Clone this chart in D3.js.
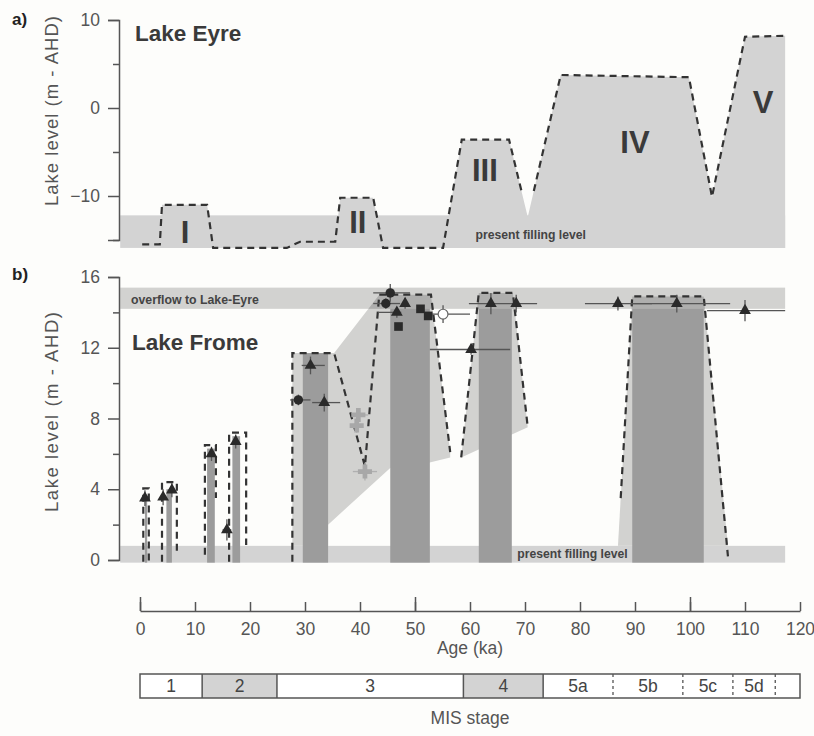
<!DOCTYPE html>
<html><head><meta charset="utf-8">
<script src="https://cdn.jsdelivr.net/npm/d3@7"></script>
<style>
body{margin:0;background:#fdfdfb;}
svg{display:block;}
text{font-family:"Liberation Sans",Arial,sans-serif;}
</style>
</head><body>
<svg id="c" width="814" height="736"></svg>
<script>
// ---------------- DATA ----------------
const ageTicks = [0,10,20,30,40,50,60,70,80,90,100,110,120];
const ageMajor = [0,50,100];
const plotAgeRange = [-3.6, 117.3];

// Panel a: Lake Eyre level curve
const eyreAge   = [0.4, 3.6, 4.0, 12.2, 13.3, 26.7, 29.1, 35.5, 36.4, 42.4, 44.2, 55.1, 58.5, 67.1, 70.5, 76.5, 99.8, 104.0, 110.0, 117.1];
const eyreLevel = [-15.5,-15.5,-11.0,-11.0,-15.9,-15.9,-15.2,-15.2,-10.2,-10.2,-15.9,-15.9,-3.6,-3.6,-12.4,3.75,3.5,-10.1,8.1,8.2];
const eyreDashGap = [69.4, 71.6];
const eyrePresent = [-12.2, -15.9];
const eyreTicksMajor = [10,0,-10];
const eyreTicksMinor = [5,-5,-15];
const eyreLabels = ["I","II","III","IV","V"];
const eyreLabelAge = [8.2, 39.6, 62.7, 90.0, 113.3];
const eyreLabelLevel = [-14.1, -13.0, -7.05, -3.9, 0.57];

// Panel b: Lake Frome
const fromeTicksMajor = [16,12,8,4,0];
const fromeTicksMinor = [14,10,6,2];
const fromePresent = [0.8, -0.15];
const fromeOverflow = [15.4, 14.2];
// dark columns
const colStart = [0.9, 4.8, 12.2, 16.8, 29.6, 45.5, 61.6, 89.5];
const colEnd   = [1.3, 5.8, 13.6, 18.2, 34.2, 52.7, 67.6, 102.5];
const colTop   = [3.6, 4.0, 6.3, 7.0, 11.7, 14.2, 14.2, 14.2];
// light envelopes (age, level)
const env1Age   = [27.7, 27.7, 35.3, 43.5, 52.9, 56.4, 56.4, 52.5, 45.5, 34.2, 34.2];
const env1Level = [0.8, 11.7, 11.7, 15.0, 15.0, 6.1, 5.8, 5.5, 5.2, 2.0, 0.8];
const env2Age   = [58.4, 61.6, 67.8, 70.5];
const env2Level = [5.8, 15.1, 15.1, 7.5];
const env3Age   = [86.9, 89.5, 102.5, 106.9];
const env3Level = [0.8, 14.9, 14.9, 0.8];
// dashed outlines
const dashA = {age:[0.6,0.6,1.6,1.6], level:[-0.1,4.05,4.05,-0.1]};
const dashB = {age:[4.0,4.0,6.7,6.7], level:[-0.1,4.4,4.4,0.3]};
const dashC = {age:[11.8,11.8,13.8,13.8], level:[0.3,6.5,6.5,3.5]};
const dashD = {age:[16.2,16.2,19.3,19.3], level:[-0.1,7.2,7.2,0.85]};
const dashE = {age:[27.7,27.7,35.3,40.9,43.5,52.9,56.4], level:[-0.1,11.7,11.7,5.3,15.0,15.0,6.1]};
const dashF = {age:[58.4,61.6,67.8,70.5], level:[5.8,15.1,15.1,7.5]};
const dashG = {age:[87.4,89.5,102.5,106.9], level:[3.5,14.9,14.9,0.2]};
// dated samples
const ptAge   = [0.9, 4.2, 5.8, 13.0, 15.8, 17.4, 28.8, 31.0, 33.5, 39.7, 39.4, 40.9, 45.5, 44.7, 48.2, 46.7, 47.0, 51.0, 52.4, 55.1, 60.2, 63.8, 68.4, 86.9, 97.6, 110.0];
const ptLevel = [3.5, 3.55, 3.95, 6.0, 1.7, 6.7, 9.05, 11.0, 8.9, 8.2, 7.6, 5.0, 15.1, 14.5, 14.5, 14.0, 13.2, 14.2, 13.8, 13.9, 11.9, 14.5, 14.5, 14.5, 14.5, 14.1];
const ptShape = ["tri","tri","tri","tri","tri","tri","circle","tri","tri","cross","cross","cross","circle","circle","tri","tri","square","square","square","open","tri","tri","tri","tri","tri","tri"];
const ptAgeLo = [0.9, 4.2, 5.8, 13.0, 15.0, 17.4, 27.3, 29.4, 31.3, 38.5, 38.7, 38.7, 42.4, 42.4, 48.2, 43.3, 47.0, 51.0, 52.4, 53.1, 52.7, 59.8, 68.4, 80.9, 89.1, 103.1];
const ptAgeHi = [0.9, 4.2, 5.8, 13.0, 16.6, 17.4, 31.0, 33.6, 36.4, 41.5, 40.2, 43.1, 49.1, 47.3, 48.2, 47.5, 47.0, 51.0, 52.4, 60.0, 67.3, 72.2, 68.4, 93.1, 107.3, 117.3];
const ptLevErr = [0.45,0.45,0.4,0.4,0.6,0.4,0.3,0.5,0.5,0.4,0.4,0.5,0.5,0.3,0.3,0.3,0.0,0.0,0.0,0.5,0.3,0.6,0.5,0.4,0.5,0.6];

// MIS stages
const misName  = ["1","2","3","4","5a","5b","5c","5d",""];
const misStart = [0, 11.3, 24.9, 58.8, 73.3, 86.0, 98.7, 107.8, 115.5];
const misEnd   = [11.3, 24.9, 58.8, 73.3, 86.0, 98.7, 107.8, 115.5, 120];
const misShade = [false,true,false,true,false,false,false,false,false];
const misDotted= [false,false,false,false,true,true,true,true,false];

// ---------------- DRAW ----------------
const svg = d3.select("#c");
const LIGHT = "#d3d3d3", DARK = "#9c9c9c", AX = "#555", TXT = "#3a3a3a";
const x  = d3.scaleLinear().domain([0,120]).range([140,800]);
const ya = d3.scaleLinear().domain([-15,10]).range([240,20]);
const yb = d3.scaleLinear().domain([0,16]).range([560,277]);

// ---- Panel a ----
const ga = svg.append("g");
ga.append("rect").attr("x", x(plotAgeRange[0])).attr("width", x(plotAgeRange[1]) - x(plotAgeRange[0]))
  .attr("y", ya(eyrePresent[0])).attr("height", ya(eyrePresent[1]) - ya(eyrePresent[0])).attr("fill", LIGHT);
const eyre = eyreAge.map((a,i)=>[a, eyreLevel[i]]);
const eyreFill = eyre.concat([[plotAgeRange[1], eyreLevel[eyreLevel.length-1]]]);
ga.append("path").datum(eyreFill)
  .attr("d", d3.area().x(d=>x(d[0])).y0(ya(eyrePresent[1])).y1(d=>ya(d[1])))
  .attr("fill", LIGHT);
// dashed outline with small gap at the 70 ka trough
const interp = (a)=>{ for(let i=1;i<eyre.length;i++){ if(a<=eyre[i][0]){ const t=(a-eyre[i-1][0])/(eyre[i][0]-eyre[i-1][0]); return eyre[i-1][1]+t*(eyre[i][1]-eyre[i-1][1]); } } return eyre[eyre.length-1][1]; };
const seg1 = eyre.filter(d=>d[0]<eyreDashGap[0]).concat([[eyreDashGap[0], interp(eyreDashGap[0])]]);
const seg2 = [[eyreDashGap[1], interp(eyreDashGap[1])]].concat(eyre.filter(d=>d[0]>eyreDashGap[1]));
[seg1, seg2].forEach(s=>{
  ga.append("path").datum(s)
    .attr("d", d3.line().x(d=>x(d[0])).y(d=>ya(d[1])))
    .attr("fill","none").attr("stroke","#333").attr("stroke-width",2.2).attr("stroke-dasharray","7,5");
});
ga.append("g").selectAll("text").data(eyreLabels).join("text")
  .attr("x",(d,i)=>x(eyreLabelAge[i])).attr("y",(d,i)=>ya(eyreLabelLevel[i]))
  .attr("text-anchor","middle").attr("dominant-baseline","central")
  .attr("font-size",31).attr("font-weight","bold").attr("fill",TXT).text(d=>d);
ga.append("text").attr("x", x(61)).attr("y", ya(-14.9)).attr("font-size",12.2).attr("font-weight","bold")
  .attr("fill","#444").text("present filling level");
ga.append("text").attr("x",135).attr("y",41).attr("font-size",22.5).attr("font-weight","bold").attr("fill",TXT).text("Lake Eyre");
ga.append("text").attr("x",12).attr("y",25).attr("font-size",17).attr("font-weight","bold").attr("fill","#222").text("a)");

function yAxis(g, scale, major, minor, xPos){
  g.attr("transform",`translate(${xPos},0)`);
  g.append("g").call(d3.axisLeft(scale).tickValues(major).tickSize(11).tickPadding(8).tickFormat(d3.format("d")));
  const gn = g.append("g").call(d3.axisLeft(scale).tickValues(minor).tickSize(6).tickFormat(""));
  gn.select(".domain").remove();
  g.selectAll("line").attr("stroke",AX).attr("stroke-width",1.5);
  g.selectAll(".domain").attr("stroke",AX).attr("stroke-width",1.5);
  g.selectAll("text").attr("font-size",17.5).attr("fill",AX).attr("font-family","Liberation Sans, Arial, sans-serif");
}
yAxis(svg.append("g"), ya, eyreTicksMajor, eyreTicksMinor, 119);
svg.append("text").attr("transform","translate(58,111) rotate(-90)").attr("text-anchor","middle")
  .attr("font-size",18.5).attr("fill",AX).attr("textLength",190).attr("lengthAdjust","spacing").text("Lake level (m - AHD)");

// ---- Panel b ----
const gb = svg.append("g");
const bx0 = x(plotAgeRange[0]), bw = x(plotAgeRange[1]) - x(plotAgeRange[0]);
gb.append("rect").attr("x",bx0).attr("width",bw).attr("y",yb(fromePresent[0])).attr("height",yb(fromePresent[1])-yb(fromePresent[0])).attr("fill",LIGHT);
const envLine = d3.line().x(d=>x(d[0])).y(d=>yb(d[1]));
[[env1Age,env1Level],[env2Age,env2Level],[env3Age,env3Level]].forEach(([A,L])=>{
  gb.append("path").attr("d", envLine(A.map((a,i)=>[a,L[i]]))+"Z")
    .attr("fill","#000").attr("fill-opacity",0.17);
});
gb.append("g").selectAll("rect").data(colStart).join("rect")
  .attr("x",(d)=>x(d)).attr("width",(d,i)=>x(colEnd[i])-x(d))
  .attr("y",(d,i)=>yb(colTop[i])).attr("height",(d,i)=>yb(fromePresent[1])-yb(colTop[i]))
  .attr("fill",DARK);
gb.append("rect").attr("x",bx0).attr("width",bw).attr("y",yb(fromeOverflow[0])).attr("height",yb(fromeOverflow[1])-yb(fromeOverflow[0]))
  .attr("fill","#000").attr("fill-opacity",0.17);
[dashA,dashB,dashC,dashD,dashE,dashF,dashG].forEach(o=>{
  gb.append("path").attr("d", envLine(o.age.map((a,i)=>[a,o.level[i]])))
    .attr("fill","none").attr("stroke","#333").attr("stroke-width",2.2).attr("stroke-dasharray","7,5");
});
// error bars
const pts = ptAge.map((a,i)=>({a, l:ptLevel[i], s:ptShape[i], lo:ptAgeLo[i], hi:ptAgeHi[i], e:ptLevErr[i]}));
const eb = gb.append("g");
pts.forEach(p=>{
  const col = p.s==="cross" ? "#b0b0b0" : "#555";
  if(p.hi>p.lo) eb.append("line").attr("x1",x(p.lo)).attr("x2",x(p.hi)).attr("y1",yb(p.l)).attr("y2",yb(p.l)).attr("stroke",col).attr("stroke-width",1.3);
  if(p.e>0) eb.append("line").attr("x1",x(p.a)).attr("x2",x(p.a)).attr("y1",yb(p.l-p.e)).attr("y2",yb(p.l+p.e)).attr("stroke",col).attr("stroke-width",1.3);
});
const symMap = {tri:d3.symbolTriangle, circle:d3.symbolCircle, square:d3.symbolSquare, cross:d3.symbolCross, open:d3.symbolCircle};
const sizeMap = {tri:60, circle:70, square:75, cross:110, open:75};
gb.append("g").selectAll("path").data(pts).join("path")
  .attr("transform",d=>`translate(${x(d.a)},${yb(d.l)})`)
  .attr("d",d=>d3.symbol().type(symMap[d.s]).size(sizeMap[d.s])())
  .attr("fill",d=>d.s==="cross"?"#a8a8a8":(d.s==="open"?"#fff":"#2a2a2a"))
  .attr("stroke",d=>d.s==="open"?"#666":"none").attr("stroke-width",1.2);

gb.append("text").attr("x",131).attr("y",yb(14.45)).attr("font-size",12.3).attr("font-weight","bold").attr("fill","#444").text("overflow to Lake-Eyre");
gb.append("text").attr("x",x(68.6)).attr("y",yb(0.1)).attr("font-size",12.2).attr("font-weight","bold").attr("fill","#444").text("present filling level");
gb.append("text").attr("x",132).attr("y",350).attr("font-size",22.5).attr("font-weight","bold").attr("fill",TXT).text("Lake Frome");
gb.append("text").attr("x",12).attr("y",280).attr("font-size",17).attr("font-weight","bold").attr("fill","#222").text("b)");
yAxis(svg.append("g"), yb, fromeTicksMajor, fromeTicksMinor, 119);
svg.append("text").attr("transform","translate(58,412) rotate(-90)").attr("text-anchor","middle")
  .attr("font-size",18.5).attr("fill",AX).attr("textLength",200).attr("lengthAdjust","spacing").text("Lake level (m - AHD)");

// ---- Age axis ----
const gx = svg.append("g").attr("transform","translate(0,611)");
gx.append("g").call(d3.axisBottom(x).tickValues(ageTicks).tickSizeInner(-9).tickSizeOuter(0).tickPadding(12).tickFormat(d3.format("d")));
gx.append("g").call(d3.axisBottom(x).tickValues(ageMajor).tickSizeInner(-14).tickSizeOuter(0).tickFormat("")).select(".domain").remove();
gx.selectAll("line").attr("stroke",AX).attr("stroke-width",1.5);
gx.selectAll(".domain").attr("stroke",AX).attr("stroke-width",1.5);
gx.selectAll("text").attr("font-size",17.5).attr("fill",AX).attr("font-family","Liberation Sans, Arial, sans-serif");
svg.append("text").attr("x",x(60)).attr("y",654).attr("text-anchor","middle").attr("font-size",17.5).attr("fill",AX).text("Age (ka)");

// ---- MIS bar ----
const gm = svg.append("g");
const mTop = 674, mBot = 698;
gm.selectAll("rect").data(misStart).join("rect")
  .attr("x",d=>x(d)).attr("width",(d,i)=>x(misEnd[i])-x(d)).attr("y",mTop).attr("height",mBot-mTop)
  .attr("fill",(d,i)=>misShade[i]?LIGHT:"#fff");
misStart.forEach((s,i)=>{
  if(i===0) return;
  gm.append("line").attr("x1",x(s)).attr("x2",x(s)).attr("y1",mTop).attr("y2",mBot)
    .attr("stroke",AX).attr("stroke-width",misDotted[i-1]?1.3:1.5).attr("stroke-dasharray",misDotted[i-1]?"3,3":null);
});
gm.append("rect").attr("x",x(0)).attr("width",x(120)-x(0)).attr("y",mTop).attr("height",mBot-mTop)
  .attr("fill","none").attr("stroke",AX).attr("stroke-width",1.5);
gm.selectAll("text").data(misName).join("text")
  .attr("x",(d,i)=>x((misStart[i]+misEnd[i])/2)).attr("y",(mTop+mBot)/2+6)
  .attr("text-anchor","middle").attr("font-size",17.5).attr("fill","#444").text(d=>d);
svg.append("text").attr("x",x(60)).attr("y",724).attr("text-anchor","middle").attr("font-size",17.5).attr("fill",AX).text("MIS stage");
</script>
</body></html>
